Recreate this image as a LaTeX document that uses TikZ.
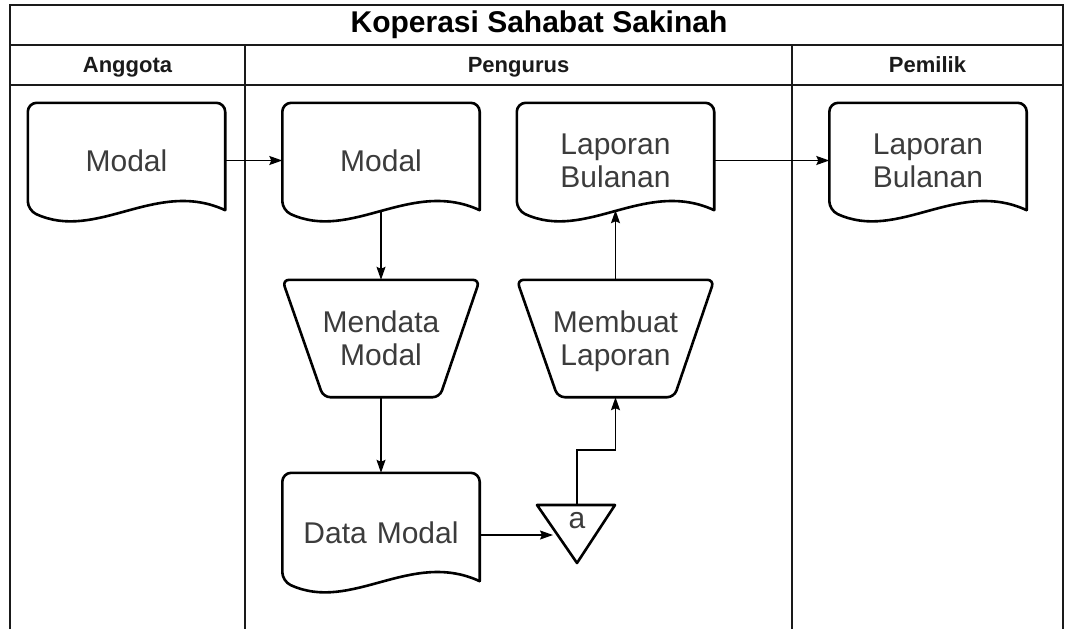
\documentclass[tikz,border=0pt]{standalone}
\usepackage{fontspec}
\setmainfont{Liberation Sans}
\usetikzlibrary{arrows.meta,calc}
\definecolor{txt}{HTML}{3C3C3C}
\definecolor{rule}{HTML}{1A1A1A}

\tikzset{
  lane/.style={line width=1.3pt, draw=rule},
  outline/.style={line width=2.6pt, line join=round, line cap=round},
  box/.style={inner sep=0pt, minimum width=197pt, text width=190pt,
    align=center, font=\fontsize{30}{33}\selectfont, text=txt},
  procbox/.style={box, minimum height=117pt},
  head/.style={inner sep=0pt, text height=16pt, text depth=4pt,
    font=\bfseries\fontsize{22}{24}\selectfont, text=rule},
  flow/.style={line width=1.4pt, -{Stealth[length=13pt,width=9pt,inset=2pt]}},
}

% document symbol: rounded top (#2 above the node's top edge), wavy bottom
\newcommand\docoutline[2]{%
  \draw[outline, rounded corners=9pt]
    (#1.south east) -- ([yshift=#2]#1.north east) -- ([yshift=#2]#1.north west) -- (#1.south west)
    [sharp corners] .. controls ($(#1.south west)+(69,32)$) and ($(#1.south east)+(-69,-32)$) .. (#1.south east);}

% manual operation symbol: trapezoid narrowing downwards
\newcommand\manualoutline[1]{%
  \draw[outline, rounded corners=7pt]
    (#1.north west) -- (#1.north east) -- ($(#1.south east)+(-40,0)$)
    -- ($(#1.south west)+(41,0)$) -- cycle;}

\begin{document}
\begin{tikzpicture}[x=1pt, y=-1pt]
\useasboundingbox (0,0) rectangle (1067,629);

% swimlane frame
\draw[lane] (10,629) -- (10,5) -- (1063,5) -- (1063,629);
\draw[lane] (10,45) -- (1063,45);
\draw[lane] (10,85) -- (1063,85);
\draw[lane] (245,45) -- (245,629);
\draw[lane] (792,45) -- (792,629);

\node[inner sep=0pt, font=\bfseries\fontsize{30}{32}\selectfont] (title) at (539,25) {Koperasi Sahabat Sakinah};
\node[head] (hA) at (127.5,66) {Anggota};
\node[head] (hP) at (518.5,66) {Pengurus};
\node[head] (hO) at (927.5,66) {Pemilik};

% documents (node spans from below the rounded top down to the wave's mid line)
\node[box, minimum height=99pt] (ang)  at (126.5,160.5) {Modal};
\node[box, minimum height=99pt] (pmod) at (381,160.5)   {Modal};
\node[box, minimum height=99pt] (plap) at (615.5,160.5) {Laporan\\Bulanan};
\node[box, minimum height=99pt] (olap) at (928,160.5)   {Laporan\\Bulanan};
\node[box, minimum height=96pt] (dmod) at (381,533)     {Data Modal};
\docoutline{ang}{8pt}
\docoutline{pmod}{8pt}
\docoutline{plap}{8pt}
\docoutline{olap}{8pt}
\docoutline{dmod}{12pt}

% manual operations
\node[procbox] (mend) at (381,338.5)   {Mendata\\Modal};
\node[procbox] (memb) at (615.5,338.5) {Membuat\\\smash{Laporan}};
\manualoutline{mend}
\manualoutline{memb}

% off-page connector
\node[inner sep=0pt, font=\fontsize{30}{33}\selectfont, text=txt] (tri) at (577,521) {a};
\coordinate (tritop) at (577,505);
\coordinate (trientry) at (553,535);
\coordinate (bend) at (577,450);
\draw[outline] (537,505) -- (615,505) -- (577,563) -- cycle;

% flows
\draw[flow] (ang.east) -- (pmod.west);
\draw[flow] (pmod.south) -- (mend.north);
\draw[flow] (mend.south) -- ([yshift=12pt]dmod.north);
\draw[flow] (dmod.east |- trientry) -- (trientry);
\draw[flow] (tritop) -- (bend) -| (memb.south);
\draw[flow] (memb.north) -- (plap.south);
\draw[flow] (plap.east) -- (olap.west);
\end{tikzpicture}
\end{document}
